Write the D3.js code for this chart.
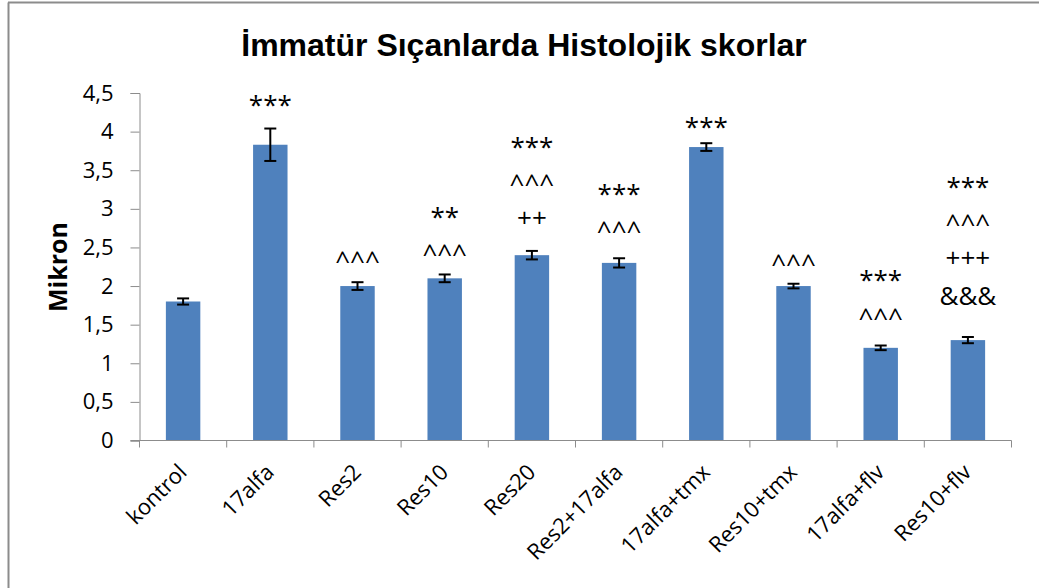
<!DOCTYPE html>
<html>
<head>
<meta charset="utf-8">
<script src="https://cdn.jsdelivr.net/npm/d3@7"></script>
<style>
  body { margin: 0; background: #fff; }
  svg text { font-family: "Open Sans", "Liberation Sans", sans-serif; }
</style>
</head>
<body>
<div id="chart"></div>
<script>
// data
var groups = ["kontrol", "17alfa", "Res2", "Res10", "Res20", "Res2+17alfa", "17alfa+tmx", "Res10+tmx", "17alfa+flv", "Res10+flv"];
var means = [1.8, 3.83, 2.0, 2.1, 2.4, 2.3, 3.8, 2.0, 1.2, 1.3];
var errors = [0.04, 0.21, 0.05, 0.05, 0.055, 0.06, 0.05, 0.03, 0.03, 0.04];
var marks = [[], ["***"], ["^^^"], ["**", "^^^"], ["***", "^^^", "++"], ["***", "^^^"], ["***"], ["^^^"], ["***", "^^^"], ["***", "^^^", "+++", "&&&"]];
// value at the middle of the first annotation line
var markTop = [0, 4.41, 2.38, 2.96, 3.87, 3.26, 4.13, 2.34, 2.14, 3.35];
var yTicks = [0, 0.5, 1, 1.5, 2, 2.5, 3, 3.5, 4, 4.5];

var width = 1039;
var height = 588;
var axisColor = "#8c8c8c";

var svg = d3.select("#chart").append("svg")
  .attr("width", width)
  .attr("height", height);

// outer frame
svg.append("line").attr("x1", 8.5).attr("y1", 2.5).attr("x2", 8.5).attr("y2", height)
  .attr("stroke", axisColor).attr("stroke-width", 2);
svg.append("line").attr("x1", 8).attr("y1", 2.5).attr("x2", width).attr("y2", 2.5)
  .attr("stroke", axisColor).attr("stroke-width", 2);

var x = d3.scaleBand().domain(groups).range([139.5, 1011.5]).paddingInner(0.605).paddingOuter(0.3025);
var y = d3.scaleLinear().domain([0, 4.5]).range([440.5, 93]);
var cx = function(d) { return x(d) + x.bandwidth() / 2; };

// bars
svg.selectAll(".bar")
  .data(groups)
  .enter().append("rect")
  .attr("class", "bar")
  .attr("x", function(d) { return x(d); })
  .attr("width", x.bandwidth())
  .attr("y", function(d, i) { return y(means[i]); })
  .attr("height", function(d, i) { return y(0) - y(means[i]); })
  .attr("fill", "#4f81bd");

// error bars
var eb = svg.selectAll(".err").data(groups).enter().append("g").attr("class", "err")
  .attr("stroke", "#000").attr("stroke-width", 2);
eb.append("line")
  .attr("x1", cx)
  .attr("x2", cx)
  .attr("y1", function(d, i) { return y(means[i] + errors[i]); })
  .attr("y2", function(d, i) { return y(means[i] - errors[i]); });
[1, -1].forEach(function(s) {
  eb.append("line")
    .attr("x1", function(d) { return cx(d) - 6; })
    .attr("x2", function(d) { return cx(d) + 6; })
    .attr("y1", function(d, i) { return y(means[i] + s * errors[i]); })
    .attr("y2", function(d, i) { return y(means[i] + s * errors[i]); });
});

// y axis
var yAxis = svg.append("g")
  .attr("transform", "translate(139.5,0)")
  .call(d3.axisLeft(y).tickValues(yTicks).tickSize(9).tickPadding(17)
    .tickFormat(function(d) { return String(d).replace(".", ","); }));
yAxis.select(".domain").attr("stroke", axisColor);
yAxis.selectAll(".tick line").attr("stroke", axisColor);
yAxis.selectAll("text").attr("font-size", 22).attr("fill", "#000")
  .style("font-family", "Open Sans");

// x axis
var xAxis = svg.append("g")
  .attr("transform", "translate(0,440.5)");
xAxis.append("line").attr("x1", 130.5).attr("x2", 1011.5).attr("stroke", axisColor);
var step = x.step();
d3.range(groups.length + 1).forEach(function(i) {
  xAxis.append("line")
    .attr("x1", 139.5 + i * step).attr("x2", 139.5 + i * step)
    .attr("y1", 0).attr("y2", 7).attr("stroke", axisColor);
});
xAxis.selectAll(".xl").data(groups).enter().append("text")
  .attr("class", "xl")
  .attr("text-anchor", "end")
  .attr("font-size", 22)
  .attr("transform", function(d) {
    return "translate(" + (cx(d) + 5) + ",33) rotate(-45)";
  })
  .text(function(d) { return d; });

// significance marks; glyphs sit at different heights, so shift baseline per symbol
var glyphMid = { "*": 0.54, "^": 0.52, "+": 0.36, "&": 0.36 };
var markSize = 26;
groups.forEach(function(g, i) {
  marks[i].forEach(function(m, j) {
    svg.append("text")
      .attr("x", cx(g))
      .attr("y", y(markTop[i]) + j * 38 + glyphMid[m[0]] * markSize)
      .attr("text-anchor", "middle")
      .attr("font-size", markSize)
      .text(m);
  });
});

// y label
svg.append("text")
  .attr("transform", "translate(67,267) rotate(-90)")
  .attr("text-anchor", "middle")
  .attr("font-size", 25)
  .attr("font-weight", "bold")
  .text("Mikron");

// title
svg.append("text")
  .attr("x", 524)
  .attr("y", 56)
  .attr("text-anchor", "middle")
  .attr("font-size", 32)
  .attr("font-weight", "bold")
  .style("font-family", "Liberation Sans")
  .text("İmmatür Sıçanlarda Histolojik skorlar");
</script>
</body>
</html>
